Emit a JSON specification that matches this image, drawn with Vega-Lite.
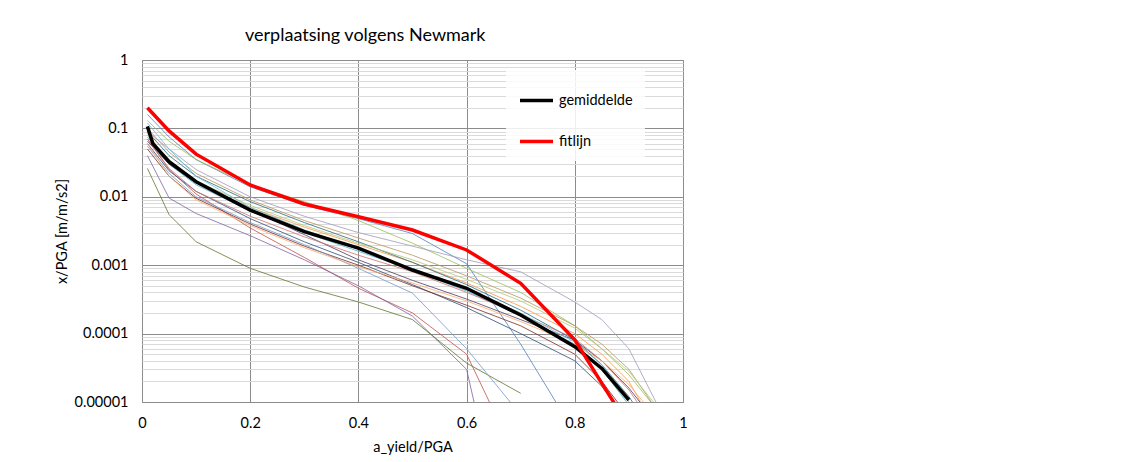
{
  "$schema": "https://vega.github.io/schema/vega-lite/v6.json",
  "width": 541,
  "height": 342,
  "autosize": {"type": "none"},
  "padding": {"left": 142, "top": 60, "right": 441, "bottom": 60},
  "background": "#ffffff",
  "config": {
    "view": {"stroke": "#888888", "strokeWidth": 1},
    "font": "Lato"
  },
  "title": {
    "text": "verplaatsing volgens Newmark",
    "anchor": "start",
    "frame": "group",
    "dx": 103,
    "offset": 7,
    "font": "Lato",
    "fontSize": 18,
    "fontWeight": "normal",
    "color": "#000000"
  },
  "datasets": {
    "runs": [
      {"reeks":"r01","a":0.01,"x":0.16},{"reeks":"r01","a":0.05,"x":0.075},{"reeks":"r01","a":0.1,"x":0.035},{"reeks":"r01","a":0.2,"x":0.014},{"reeks":"r01","a":0.3,"x":0.0075},{"reeks":"r01","a":0.4,"x":0.0048},{"reeks":"r01","a":0.5,"x":0.0029},{"reeks":"r01","a":0.6,"x":0.00105},{"reeks":"r01","a":0.7,"x":0.00007},{"reeks":"r01","a":0.8,"x":0.0000035},
      {"reeks":"r02","a":0.01,"x":0.07},{"reeks":"r02","a":0.05,"x":0.025},{"reeks":"r02","a":0.1,"x":0.011},{"reeks":"r02","a":0.2,"x":0.0035},{"reeks":"r02","a":0.3,"x":0.0013},{"reeks":"r02","a":0.4,"x":0.00046},{"reeks":"r02","a":0.5,"x":0.0002},{"reeks":"r02","a":0.6,"x":0.00005},{"reeks":"r02","a":0.7,"x":0.0000011},
      {"reeks":"r03","a":0.01,"x":0.13},{"reeks":"r03","a":0.05,"x":0.065},{"reeks":"r03","a":0.1,"x":0.035},{"reeks":"r03","a":0.2,"x":0.015},{"reeks":"r03","a":0.3,"x":0.0085},{"reeks":"r03","a":0.4,"x":0.0045},{"reeks":"r03","a":0.5,"x":0.0021},{"reeks":"r03","a":0.6,"x":0.0009},{"reeks":"r03","a":0.7,"x":0.0004},{"reeks":"r03","a":0.8,"x":0.00013},{"reeks":"r03","a":0.85,"x":0.00006},{"reeks":"r03","a":0.9,"x":0.000025},{"reeks":"r03","a":0.95,"x":0.000008},
      {"reeks":"r04","a":0.01,"x":0.04},{"reeks":"r04","a":0.05,"x":0.0096},{"reeks":"r04","a":0.1,"x":0.0057},{"reeks":"r04","a":0.2,"x":0.0027},{"reeks":"r04","a":0.3,"x":0.0012},{"reeks":"r04","a":0.4,"x":0.0005},{"reeks":"r04","a":0.5,"x":0.00018},{"reeks":"r04","a":0.6,"x":0.00003},{"reeks":"r04","a":0.7,"x":0.00000001},
      {"reeks":"r05","a":0.01,"x":0.075},{"reeks":"r05","a":0.05,"x":0.03},{"reeks":"r05","a":0.1,"x":0.015},{"reeks":"r05","a":0.2,"x":0.0062},{"reeks":"r05","a":0.3,"x":0.003},{"reeks":"r05","a":0.4,"x":0.0016},{"reeks":"r05","a":0.5,"x":0.00085},{"reeks":"r05","a":0.6,"x":0.00042},{"reeks":"r05","a":0.7,"x":0.00018},{"reeks":"r05","a":0.8,"x":0.00007},{"reeks":"r05","a":0.85,"x":0.00003},{"reeks":"r05","a":0.9,"x":0.000009},{"reeks":"r05","a":0.95,"x":0.000002},
      {"reeks":"r06","a":0.01,"x":0.085},{"reeks":"r06","a":0.05,"x":0.032},{"reeks":"r06","a":0.1,"x":0.016},{"reeks":"r06","a":0.2,"x":0.007},{"reeks":"r06","a":0.3,"x":0.0036},{"reeks":"r06","a":0.4,"x":0.002},{"reeks":"r06","a":0.5,"x":0.0011},{"reeks":"r06","a":0.6,"x":0.00055},{"reeks":"r06","a":0.7,"x":0.00025},{"reeks":"r06","a":0.8,"x":0.0001},{"reeks":"r06","a":0.85,"x":0.00005},{"reeks":"r06","a":0.9,"x":0.00002},{"reeks":"r06","a":0.95,"x":0.000004},
      {"reeks":"r07","a":0.01,"x":0.06},{"reeks":"r07","a":0.05,"x":0.024},{"reeks":"r07","a":0.1,"x":0.012},{"reeks":"r07","a":0.2,"x":0.0048},{"reeks":"r07","a":0.3,"x":0.0022},{"reeks":"r07","a":0.4,"x":0.0011},{"reeks":"r07","a":0.5,"x":0.00052},{"reeks":"r07","a":0.6,"x":0.00024},{"reeks":"r07","a":0.7,"x":0.0001},{"reeks":"r07","a":0.8,"x":0.00004},{"reeks":"r07","a":0.85,"x":0.000017},{"reeks":"r07","a":0.9,"x":0.000005},
      {"reeks":"r08","a":0.01,"x":0.05},{"reeks":"r08","a":0.05,"x":0.02},{"reeks":"r08","a":0.1,"x":0.0095},{"reeks":"r08","a":0.2,"x":0.004},{"reeks":"r08","a":0.3,"x":0.0019},{"reeks":"r08","a":0.4,"x":0.001},{"reeks":"r08","a":0.5,"x":0.0005},{"reeks":"r08","a":0.6,"x":0.00026},{"reeks":"r08","a":0.7,"x":0.00013},{"reeks":"r08","a":0.8,"x":0.00005},{"reeks":"r08","a":0.85,"x":0.00002},{"reeks":"r08","a":0.9,"x":0.000006},
      {"reeks":"r09","a":0.01,"x":0.026},{"reeks":"r09","a":0.05,"x":0.0055},{"reeks":"r09","a":0.1,"x":0.0022},{"reeks":"r09","a":0.2,"x":0.0009},{"reeks":"r09","a":0.3,"x":0.00048},{"reeks":"r09","a":0.4,"x":0.00029},{"reeks":"r09","a":0.5,"x":0.00016},{"reeks":"r09","a":0.6,"x":0.000037},{"reeks":"r09","a":0.7,"x":0.0000134},
      {"reeks":"r10","a":0.01,"x":0.065},{"reeks":"r10","a":0.05,"x":0.03},{"reeks":"r10","a":0.1,"x":0.016},{"reeks":"r10","a":0.2,"x":0.0065},{"reeks":"r10","a":0.3,"x":0.0028},{"reeks":"r10","a":0.4,"x":0.0012},{"reeks":"r10","a":0.5,"x":0.0006},{"reeks":"r10","a":0.6,"x":0.00032},{"reeks":"r10","a":0.7,"x":0.00016},{"reeks":"r10","a":0.8,"x":0.00008},{"reeks":"r10","a":0.85,"x":0.00004},{"reeks":"r10","a":0.9,"x":0.000016},{"reeks":"r10","a":0.95,"x":0.000005},
      {"reeks":"r11","a":0.01,"x":0.09},{"reeks":"r11","a":0.05,"x":0.04},{"reeks":"r11","a":0.1,"x":0.02},{"reeks":"r11","a":0.2,"x":0.0085},{"reeks":"r11","a":0.3,"x":0.0042},{"reeks":"r11","a":0.4,"x":0.0022},{"reeks":"r11","a":0.5,"x":0.0011},{"reeks":"r11","a":0.6,"x":0.00052},{"reeks":"r11","a":0.7,"x":0.00022},{"reeks":"r11","a":0.8,"x":0.00008},{"reeks":"r11","a":0.85,"x":0.000035},{"reeks":"r11","a":0.9,"x":0.000012},{"reeks":"r11","a":0.95,"x":0.000003},
      {"reeks":"r12","a":0.01,"x":0.1},{"reeks":"r12","a":0.05,"x":0.045},{"reeks":"r12","a":0.1,"x":0.022},{"reeks":"r12","a":0.2,"x":0.009},{"reeks":"r12","a":0.3,"x":0.0045},{"reeks":"r12","a":0.4,"x":0.0025},{"reeks":"r12","a":0.5,"x":0.0014},{"reeks":"r12","a":0.6,"x":0.0007},{"reeks":"r12","a":0.7,"x":0.00033},{"reeks":"r12","a":0.8,"x":0.00013},{"reeks":"r12","a":0.85,"x":0.00007},{"reeks":"r12","a":0.9,"x":0.00003},{"reeks":"r12","a":0.95,"x":0.000008},
      {"reeks":"r13","a":0.01,"x":0.055},{"reeks":"r13","a":0.05,"x":0.022},{"reeks":"r13","a":0.1,"x":0.01},{"reeks":"r13","a":0.2,"x":0.0042},{"reeks":"r13","a":0.3,"x":0.002},{"reeks":"r13","a":0.4,"x":0.0009},{"reeks":"r13","a":0.5,"x":0.00039},{"reeks":"r13","a":0.6,"x":0.00006},{"reeks":"r13","a":0.7,"x":0.0000065},
      {"reeks":"r14","a":0.01,"x":0.07},{"reeks":"r14","a":0.05,"x":0.026},{"reeks":"r14","a":0.1,"x":0.012},{"reeks":"r14","a":0.2,"x":0.0052},{"reeks":"r14","a":0.3,"x":0.0026},{"reeks":"r14","a":0.4,"x":0.0014},{"reeks":"r14","a":0.5,"x":0.0008},{"reeks":"r14","a":0.6,"x":0.0004},{"reeks":"r14","a":0.7,"x":0.00019},{"reeks":"r14","a":0.8,"x":0.000085},{"reeks":"r14","a":0.85,"x":0.00004},{"reeks":"r14","a":0.9,"x":0.000015},{"reeks":"r14","a":0.95,"x":0.000004},
      {"reeks":"r15","a":0.01,"x":0.08},{"reeks":"r15","a":0.05,"x":0.035},{"reeks":"r15","a":0.1,"x":0.017},{"reeks":"r15","a":0.2,"x":0.0075},{"reeks":"r15","a":0.3,"x":0.0038},{"reeks":"r15","a":0.4,"x":0.0021},{"reeks":"r15","a":0.5,"x":0.0012},{"reeks":"r15","a":0.6,"x":0.00062},{"reeks":"r15","a":0.7,"x":0.0003},{"reeks":"r15","a":0.8,"x":0.00012},{"reeks":"r15","a":0.85,"x":0.00006},{"reeks":"r15","a":0.9,"x":0.000028},{"reeks":"r15","a":0.95,"x":0.000009},
      {"reeks":"r16","a":0.01,"x":0.09},{"reeks":"r16","a":0.05,"x":0.05},{"reeks":"r16","a":0.1,"x":0.025},{"reeks":"r16","a":0.2,"x":0.01},{"reeks":"r16","a":0.3,"x":0.0052},{"reeks":"r16","a":0.4,"x":0.003},{"reeks":"r16","a":0.5,"x":0.0019},{"reeks":"r16","a":0.6,"x":0.0012},{"reeks":"r16","a":0.7,"x":0.0008},{"reeks":"r16","a":0.8,"x":0.00029},{"reeks":"r16","a":0.85,"x":0.00016},{"reeks":"r16","a":0.9,"x":0.00006},{"reeks":"r16","a":0.95,"x":0.00001},
      {"reeks":"r17","a":0.01,"x":0.12},{"reeks":"r17","a":0.05,"x":0.05},{"reeks":"r17","a":0.1,"x":0.02},{"reeks":"r17","a":0.2,"x":0.007},{"reeks":"r17","a":0.3,"x":0.0033},{"reeks":"r17","a":0.4,"x":0.0017},{"reeks":"r17","a":0.5,"x":0.0009},{"reeks":"r17","a":0.6,"x":0.00045},{"reeks":"r17","a":0.7,"x":0.0002},{"reeks":"r17","a":0.8,"x":0.000075},{"reeks":"r17","a":0.85,"x":0.000035},{"reeks":"r17","a":0.9,"x":0.00001},{"reeks":"r17","a":0.95,"x":0.000002},
      {"reeks":"r18","a":0.01,"x":0.06},{"reeks":"r18","a":0.05,"x":0.02},{"reeks":"r18","a":0.1,"x":0.009},{"reeks":"r18","a":0.2,"x":0.0038},{"reeks":"r18","a":0.3,"x":0.0018},{"reeks":"r18","a":0.4,"x":0.00095},{"reeks":"r18","a":0.5,"x":0.00055},{"reeks":"r18","a":0.6,"x":0.0003},{"reeks":"r18","a":0.7,"x":0.00015},{"reeks":"r18","a":0.8,"x":0.00007},{"reeks":"r18","a":0.85,"x":0.00004},{"reeks":"r18","a":0.9,"x":0.000018},{"reeks":"r18","a":0.95,"x":0.000006}
    ],
    "lijnen": [
      {"naam":"gemiddelde","a":0.01,"x":0.107},{"naam":"gemiddelde","a":0.02,"x":0.06},{"naam":"gemiddelde","a":0.05,"x":0.0326},{"naam":"gemiddelde","a":0.1,"x":0.0166},{"naam":"gemiddelde","a":0.2,"x":0.0064},{"naam":"gemiddelde","a":0.3,"x":0.0031},{"naam":"gemiddelde","a":0.4,"x":0.00178},{"naam":"gemiddelde","a":0.5,"x":0.00085},{"naam":"gemiddelde","a":0.6,"x":0.00046},{"naam":"gemiddelde","a":0.7,"x":0.000187},{"naam":"gemiddelde","a":0.8,"x":0.0000645},{"naam":"gemiddelde","a":0.85,"x":0.000031},{"naam":"gemiddelde","a":0.9,"x":0.0000107},
      {"naam":"fitlijn","a":0.01,"x":0.2},{"naam":"fitlijn","a":0.05,"x":0.092},{"naam":"fitlijn","a":0.1,"x":0.042},{"naam":"fitlijn","a":0.2,"x":0.0149},{"naam":"fitlijn","a":0.3,"x":0.00785},{"naam":"fitlijn","a":0.4,"x":0.0051},{"naam":"fitlijn","a":0.5,"x":0.00327},{"naam":"fitlijn","a":0.6,"x":0.00167},{"naam":"fitlijn","a":0.7,"x":0.000543},{"naam":"fitlijn","a":0.8,"x":0.0000809},{"naam":"fitlijn","a":0.85,"x":0.0000187},{"naam":"fitlijn","a":0.9,"x":0.0000044}
    ]
  },
  "layer": [
    {
      "data": {"name": "runs"},
      "mark": {"type": "line", "strokeWidth": 1, "opacity": 0.8, "clip": true},
      "encoding": {
        "x": {
          "field": "a", "type": "quantitative", "title": "a_yield/PGA",
          "scale": {"domain": [0, 1], "nice": false, "zero": false},
          "axis": {
            "values": [0, 0.2, 0.4, 0.6, 0.8, 1],
            "format": ".1~f",
            "domain": false, "ticks": false,
            "grid": true, "gridColor": "#8c8c8c", "gridWidth": 1,
            "labelFont": "Lato", "labelFontSize": 14.5, "labelColor": "#000000", "labelPadding": 14,
            "labelFlush": false,
            "titleFont": "Lato", "titleFontSize": 14.5, "titleFontWeight": "normal", "titleColor": "#000000", "titlePadding": 11
          }
        },
        "y": {
          "field": "x", "type": "quantitative", "title": "x/PGA [m/m/s2]",
          "scale": {"type": "log", "domain": [0.00001, 1], "nice": false},
          "axis": {
            "values": [0.00001,0.00002,0.00003,0.00004,0.00005,0.00006,0.00007,0.00008,0.00009,0.0001,0.0002,0.0003,0.0004,0.0005,0.0006,0.0007,0.0008,0.0009,0.001,0.002,0.003,0.004,0.005,0.006,0.007,0.008,0.009,0.01,0.02,0.03,0.04,0.05,0.06,0.07,0.08,0.09,0.1,0.2,0.3,0.4,0.5,0.6,0.7,0.8,0.9,1],
            "format": ".5~f",
            "labelExpr": "abs(log(datum.value)/LN10 - round(log(datum.value)/LN10)) < 0.01 ? datum.label : ''",
            "labelOverlap": false,
            "domain": false, "ticks": false,
            "grid": true,
            "gridColor": {"condition": {"test": "abs(log(datum.value)/LN10 - round(log(datum.value)/LN10)) < 0.01", "value": "#8c8c8c"}, "value": "#dadada"},
            "gridWidth": 1,
            "labelFont": "Lato", "labelFontSize": 14.5, "labelColor": "#000000", "labelPadding": 14,
            "labelFlush": false,
            "titleFont": "Lato", "titleFontSize": 14.5, "titleFontWeight": "normal", "titleColor": "#000000", "titlePadding": 5
          }
        },
        "color": {
          "field": "reeks", "type": "nominal", "legend": null,
          "scale": {
            "domain": ["r01","r02","r03","r04","r05","r06","r07","r08","r09","r10","r11","r12","r13","r14","r15","r16","r17","r18"],
            "range": ["#4F81BD","#C0504D","#9BBB59","#8064A2","#4BACC6","#F79646","#2C4D75","#772C2A","#5F7530","#4D3B62","#276A7C","#B9925F","#729ACA","#CD7371","#AFC97A","#A09AB8","#6FBDD1","#F9AB6B"]
          }
        }
      }
    },
    {
      "data": {"name": "lijnen"},
      "mark": {"type": "line", "strokeWidth": 3.5, "clip": true},
      "encoding": {
        "x": {"field": "a", "type": "quantitative", "title": "a_yield/PGA"},
        "y": {"field": "x", "type": "quantitative", "title": "x/PGA [m/m/s2]"},
        "color": {
          "field": "naam", "type": "nominal",
          "scale": {"domain": ["gemiddelde", "fitlijn"], "range": ["#000000", "#ff0000"]},
          "legend": {
            "orient": "none", "legendX": 364, "legendY": 10,
            "title": null,
            "symbolType": "stroke", "symbolSize": 1089, "symbolStrokeWidth": 3.5,
            "labelFont": "Lato", "labelFontSize": 14.5, "labelColor": "#000000",
            "fillColor": "rgba(255,255,255,0.85)",
            "padding": 12, "rowPadding": 15, "labelOffset": 4
          }
        }
      }
    }
  ],
  "resolve": {"scale": {"color": "independent"}}
}
